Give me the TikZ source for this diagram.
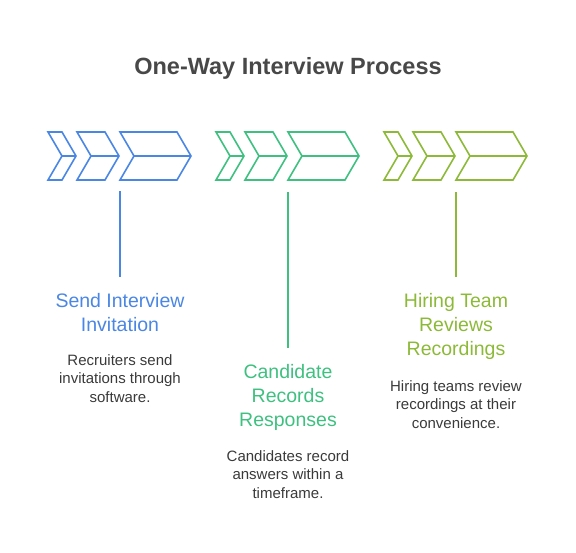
\documentclass[tikz,border=0pt]{standalone}
\usepackage{fontspec}
\setmainfont{Liberation Sans}
\usetikzlibrary{positioning}
\usetikzlibrary{calc}
\definecolor{stepblue}{RGB}{74,134,228}
\definecolor{stepgreen}{RGB}{62,192,128}
\definecolor{stepolive}{RGB}{140,185,55}
\definecolor{titlegray}{RGB}{72,72,72}
\definecolor{descgray}{RGB}{58,58,58}

\begin{document}
\begin{tikzpicture}[x=1pt,y=-1pt,
  head/.style={align=center,font=\fontsize{19.5}{24}\selectfont,inner sep=0pt,anchor=north},
  desc/.style={align=center,font=\fontsize{15}{18.5}\selectfont,text=descgray,inner sep=0pt,anchor=north},
  link/.style={line width=2pt,shorten >=16pt}]
\useasboundingbox (0,0) rectangle (576,552);
\node[font=\bfseries\fontsize{23.5}{27}\selectfont,text=titlegray](title) at (288,68){One-Way Interview Process};

% chevrons
\foreach \x/\col in {48/stepblue,216/stepgreen,384/stepolive}{
  \foreach \a/\b in {0/14,29/57,72/129}{
    \draw[\col,line width=1.6pt,line join=miter]
      ({\x+\a},132) -- ({\x+\b},132) -- ({\x+\b+14},156) -- ({\x+\b},180)
      -- ({\x+\a},180) -- ({\x+\a+14},156) -- cycle
      ({\x+\a+14},156) -- ({\x+\b+14},156);
  }
}

\coordinate(sendtop) at (120,191);
\coordinate(recordtop) at (288,192);
\coordinate(reviewtop) at (456,192);

\node[head,text=stepblue](send) at (120,293){Send Interview\\Invitation};
\node[head,text=stepgreen](record) at (288,364){Candidate\\Records\\Responses};
\node[head,text=stepolive](review) at (456,293){Hiring Team\\Reviews\\Recordings};

\node[desc](senddesc) at (120,354){Recruiters send\\invitations through\\software.};
\node[desc](recorddesc) at (288,450){Candidates record\\answers within a\\timeframe.};
\node[desc](reviewdesc) at (456,380){Hiring teams review\\recordings at their\\convenience.};

\path
(sendtop) edge[link,stepblue] (send.north)
(recordtop) edge[link,stepgreen] (record.north)
(reviewtop) edge[link,stepolive] (review.north);
\end{tikzpicture}
\end{document}
